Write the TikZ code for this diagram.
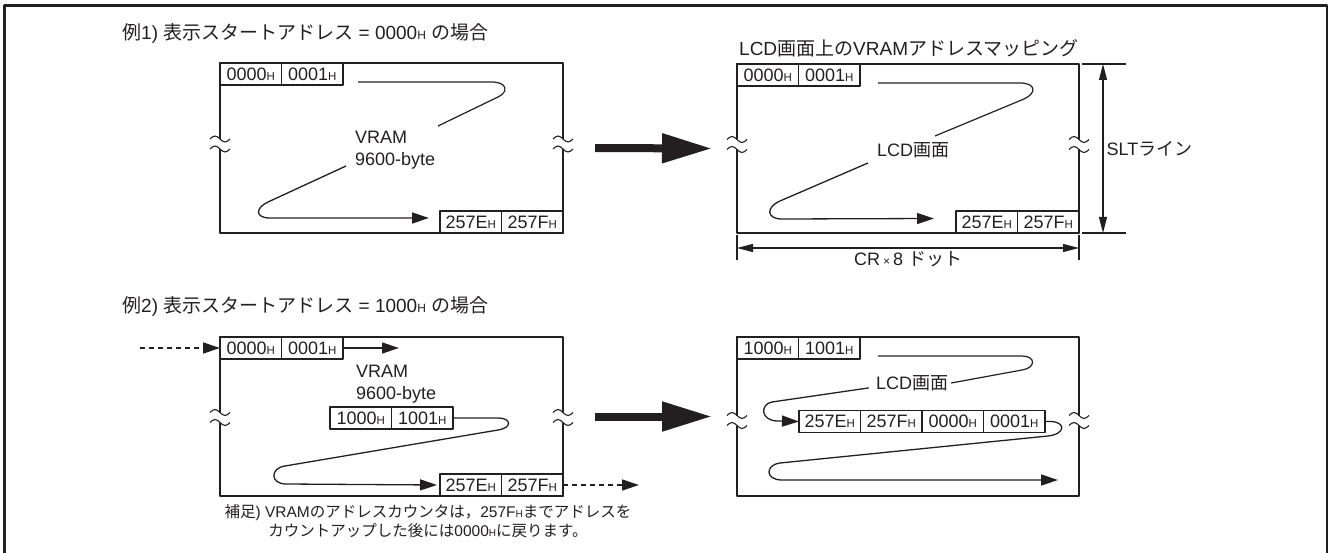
\documentclass[tikz,border=0pt]{standalone}
\usepackage{fontspec}
\setmainfont{Liberation Sans}
\newfontfamily\jp{Noto Sans CJK JP}
\usepackage{tikz}
\usetikzlibrary{arrows.meta,positioning,calc}
\definecolor{tinta}{HTML}{231F20}
\newcommand{\hx}[1][11.5]{{\fontsize{#1}{#1}\selectfont H}}
\newcommand{\corte}[2]{%
  \begin{scope}[shift={(#1)},shift={(0,#2)}]
    \fill[white] (-3,-5) rectangle (3,5);
    \draw[onda] (-10,-5) sin (-5,-8) cos (0,-5) sin (5,-2) cos (10,-5);
    \draw[onda] (-10,5) sin (-5,2) cos (0,5) sin (5,8) cos (10,5);
  \end{scope}}

\begin{document}
\begin{tikzpicture}[x=1pt,y=-1pt,line join=round,
  caja/.style={draw=tinta,line width=2.4pt,minimum width=343pt,minimum height=170pt,inner sep=0pt,outer sep=0pt,anchor=north west},
  celda/.style={draw=tinta,line width=1.1pt,minimum width=61.5pt,minimum height=22pt,inner sep=0pt,outer sep=0pt,text=tinta,font=\fontsize{18}{18}\selectfont},
  etq/.style={font=\fontsize{18}{22}\selectfont,inner sep=0pt,text=tinta},
  titulo/.style={font=\fontsize{19}{22}\selectfont,inner sep=0pt,anchor=west,text=tinta},
  flecha/.style={-{Triangle[length=17pt,width=11pt]},line width=1.3pt,tinta},
  punteada/.style={flecha,dash pattern=on 5pt off 4pt},
  gruesa/.style={-{Triangle[length=50pt,width=28pt]},line width=8pt,tinta},
  cota/.style={{Triangle[length=16pt,width=8pt]}-{Triangle[length=16pt,width=8pt]},line width=1.1pt,tinta},
  guia/.style={line width=1.2pt,tinta},
  onda/.style={line width=1.1pt,tinta}]
\useasboundingbox (0,0) rectangle (1329,553);
\draw[tinta,line width=2.7pt] (4.7,560) -- (4.7,5.3) -- (1327,5.3) -- (1327,560);

\node[titulo] (e1) at (122,33) {{\jp 例}1) {\jp 表示スタートアドレス} = 0000\hx[12]\ {\jp の場合}};
\node[titulo] (e2) at (122,306) {{\jp 例}2) {\jp 表示スタートアドレス} = 1000\hx[12]\ {\jp の場合}};
\node[titulo] (e3) at (739,48) {LCD{\jp 画面上の}VRAM{\jp アドレスマッピング}};

\node[caja] (v1) at (220,63) {};
\node[celda,anchor=north west] (v1a) at (v1.north west) {0000\hx};
\node[celda,right=0pt of v1a] (v1b) {0001\hx};
\node[celda,anchor=south east] (v1z) at (v1.south east) {257F\hx};
\node[celda,left=0pt of v1z] (v1y) {257E\hx};
\node[etq,align=left,anchor=west] (t1) at (355,150) {VRAM\\9600-byte};
\coordinate (v1p) at (438,126);
\coordinate (v1q) at (346,166);
\draw[guia] ([shift={(15,-3)}]v1b.south east) -- (492,82) .. controls (507,82) and (509,92) .. (498,97) -- (v1p);
\draw[flecha] (v1q) -- (268,202) .. controls (255,208) and (255,218) .. (270,218) -- ([shift={(-11,-4)}]v1y.west);

\node[caja,minimum width=342pt,minimum height=169pt] (l1) at (737,64) {};
\node[celda,anchor=north west] (l1a) at (l1.north west) {0000\hx};
\node[celda,right=0pt of l1a] (l1b) {0001\hx};
\node[celda,anchor=south east] (l1z) at (l1.south east) {257F\hx};
\node[celda,left=0pt of l1z] (l1y) {257E\hx};
\node[etq] (t2) at (913,150) {LCD{\jp 画面}};
\coordinate (l1p) at (935,136);
\coordinate (l1q) at (868,163);
\draw[guia] ([shift={(18,-3)}]l1b.south east) -- (1020,83) .. controls (1036,83) and (1037,93) .. (1024,99) -- (l1p);
\draw[flecha] (l1q) -- (780,201) .. controls (766,207) and (766,219) .. (782,219) -- ([shift={(-22,-3.5)}]l1y.west);

\draw[guia] ([xshift=3pt]l1.north east) -- ++(44,0);
\draw[guia] ([xshift=3pt]l1.south east) -- ++(44,0);
\draw[cota] ([xshift=24pt]l1.north east) -- ([xshift=24pt]l1.south east) node[etq,midway,right=3pt] (s1) {SLT{\jp ライン}};
\draw[guia] ([shift={(0,2)}]l1.south west) -- ++(0,25);
\draw[guia] ([shift={(0,2)}]l1.south east) -- ++(0,25);
\draw[cota] ([shift={(0,15)}]l1.south west) -- ([shift={(0,15)}]l1.south east) node[etq,midway,below=3pt] (s2) {CR\,{\fontsize{12}{12}\selectfont ×}\,8 {\jp ドット}};

\draw[gruesa] ([xshift=32pt]v1.east) -- ([xshift=-25pt]l1.west);

\node[caja,minimum height=159pt] (v2) at (220,337) {};
\node[celda,anchor=north west] (v2a) at (v2.north west) {0000\hx};
\node[celda,right=0pt of v2a] (v2b) {0001\hx};
\node[celda,anchor=south east] (v2z) at (v2.south east) {257F\hx};
\node[celda,left=0pt of v2z] (v2y) {257E\hx};
\node[celda,anchor=north west] (v2m) at (330,407) {1000\hx};
\node[celda,right=0pt of v2m] (v2n) {1001\hx};
\node[etq,align=left,anchor=west] (t3) at (356,384) {VRAM\\9600-byte};
\draw[punteada] ([xshift=-80pt]v2a.west) -- (v2a.west);
\draw[flecha] (v2b.east) -- ++(56,0);
\draw[punteada] (v2z.east) -- ++(76,0);
\draw[flecha] (v2n.east) -- (498,418) .. controls (512,418) and (512,428) .. (498,430) -- (285,466) .. controls (270,468) and (270,484) .. (286,484) -- ([xshift=-3pt]v2y.west);

\node[caja,minimum width=342pt,minimum height=159pt] (l2) at (737,337) {};
\node[celda,anchor=north west] (l2a) at (l2.north west) {1000\hx};
\node[celda,right=0pt of l2a] (l2b) {1001\hx};
\node[celda,anchor=west] (l2c) at (799,421.5) {257E\hx};
\node[celda,right=0pt of l2c] (l2d) {257F\hx};
\node[celda,right=0pt of l2d] (l2e) {0000\hx};
\node[celda,right=0pt of l2e] (l2f) {0001\hx};
\node[etq] (t4) at (912,383) {LCD{\jp 画面}};
\draw[guia] ([shift={(18,-3)}]l2b.south east) -- (1022,356) .. controls (1036,356) and (1036,368) .. (1022,370) -- ([xshift=3pt]t4.east);
\draw[flecha] ([shift={(-7,-3)}]t4.south west) -- (772,402) .. controls (760,404) and (760,421) .. (778,421) -- (l2c.west);
\draw[flecha] (l2f.east) -- (1050,421.5) .. controls (1066,421.5) and (1066,434) .. (1048,436) -- (780,463) .. controls (765,465) and (765,480) .. (782,480) -- ([shift={(-21,-16)}]l2.south east);

\draw[gruesa] ([xshift=32pt]v2.east) -- ([xshift=-25pt]l2.west);

\corte{v1.west}{-4}
\corte{v1.east}{-4}
\corte{l1.west}{-4}
\corte{l1.east}{-4}
\corte{v2.west}{1}
\corte{v2.east}{1}
\corte{l2.west}{4}
\corte{l2.east}{4}

\node[etq,font=\fontsize{15.5}{19}\selectfont,align=center] (n1) at (428,521) {{\jp 補足}) VRAM{\jp のアドレスカウンタは，}257F\hx[10]{\jp までアドレスを}\\{\jp カウントアップした後には}0000\hx[10]{\jp に戻ります。}};
\end{tikzpicture}
\end{document}
